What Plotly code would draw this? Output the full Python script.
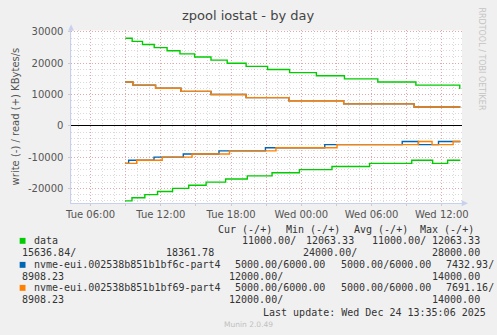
import plotly.graph_objects as go

W, H = 497, 335

# ---------------- data ----------------
data_read_times = ["2025-12-23 08:58", "2025-12-23 09:33", "2025-12-23 10:26", "2025-12-23 11:26",
                   "2025-12-23 12:32", "2025-12-23 13:38", "2025-12-23 14:53", "2025-12-23 16:17",
                   "2025-12-23 17:40", "2025-12-23 19:17", "2025-12-23 21:07", "2025-12-23 23:00",
                   "2025-12-24 01:17", "2025-12-24 03:41", "2025-12-24 06:32", "2025-12-24 09:47",
                   "2025-12-24 13:32", "2025-12-24 13:35"]
data_read_vals = [28000, 27000, 26000, 25000, 24000, 23000, 22000, 21000, 20000, 19000,
                  18000, 17000, 16000, 15000, 14000, 13000, 12000, 12000]

data_write_times = ["2025-12-23 08:56", "2025-12-23 09:32", "2025-12-23 10:38", "2025-12-23 11:43",
                    "2025-12-23 13:00", "2025-12-23 14:23", "2025-12-23 15:52", "2025-12-23 17:32",
                    "2025-12-23 19:23", "2025-12-23 21:30", "2025-12-23 23:50", "2025-12-24 02:37",
                    "2025-12-24 05:50", "2025-12-24 09:26", "2025-12-24 11:13", "2025-12-24 12:30",
                    "2025-12-24 13:35"]
data_write_vals = [24000, 23000, 22000, 21000, 20000, 19000, 18000, 17000, 16000, 15000,
                   14000, 13000, 12000, 11000, 12000, 11000, 11000]

bf6c_read_times = ["2025-12-23 08:58", "2025-12-23 09:37", "2025-12-23 11:33", "2025-12-23 13:43",
                   "2025-12-23 16:17", "2025-12-23 19:17", "2025-12-23 22:56", "2025-12-24 03:37",
                   "2025-12-24 09:38", "2025-12-24 13:35"]
bf6c_read_vals = [14000, 13000, 12000, 11000, 10000, 9000, 8000, 7000, 6000, 6000]

bf6c_write_times = ["2025-12-23 08:56", "2025-12-23 09:15", "2025-12-23 11:25", "2025-12-23 13:55",
                    "2025-12-23 16:58", "2025-12-23 20:56", "2025-12-24 02:00", "2025-12-24 08:37",
                    "2025-12-24 10:00", "2025-12-24 11:43", "2025-12-24 13:35"]
bf6c_write_vals = [12000, 11000, 10000, 9000, 8000, 7000, 6000, 5000, 6000, 5000, 5000]

bf69_read_times = ["2025-12-23 08:58", "2025-12-23 09:37", "2025-12-23 11:33", "2025-12-23 13:43",
                   "2025-12-23 16:17", "2025-12-23 19:17", "2025-12-23 22:56", "2025-12-24 03:37",
                   "2025-12-24 09:38", "2025-12-24 13:35"]
bf69_read_vals = [14000, 13000, 12000, 11000, 10000, 9000, 8000, 7000, 6000, 6000]

bf69_write_times = ["2025-12-23 08:56", "2025-12-23 09:56", "2025-12-23 12:07", "2025-12-23 14:40",
                    "2025-12-23 17:52", "2025-12-23 21:50", "2025-12-24 03:03", "2025-12-24 10:00",
                    "2025-12-24 11:10", "2025-12-24 12:58", "2025-12-24 13:35"]
bf69_write_vals = [12000, 11000, 10000, 9000, 8000, 7000, 6000, 5000, 6000, 5000, 5000]

x_tick_vals = ["2025-12-23 06:00", "2025-12-23 09:00", "2025-12-23 12:00", "2025-12-23 15:00",
               "2025-12-23 18:00", "2025-12-23 21:00", "2025-12-24 00:00", "2025-12-24 03:00",
               "2025-12-24 06:00", "2025-12-24 09:00", "2025-12-24 12:00"]
x_tick_text = ["Tue 06:00", "", "Tue 12:00", "", "Tue 18:00", "", "Wed 00:00", "",
               "Wed 06:00", "", "Wed 12:00"]
y_tick_vals = [-20000, -10000, 0, 10000, 20000, 30000]
y_tick_text = ["-20000", "-10000", "0", "10000", "20000", "30000"]

series_names = ["data", "nvme-eui.002538b851b1bf6c-part4", "nvme-eui.002538b851b1bf69-part4"]
series_colors = ["#00CC00", "#0066B3", "#FF8000"]

# ---------------- helpers (pixel -> paper) ----------------
def px(x):
    return x / W

def py(y):
    return 1 - y / H

fig = go.Figure()

series = [
    (series_colors[0], data_read_times, data_read_vals, data_write_times, data_write_vals),
    (series_colors[1], bf6c_read_times, bf6c_read_vals, bf6c_write_times, bf6c_write_vals),
    (series_colors[2], bf69_read_times, bf69_read_vals, bf69_write_times, bf69_write_vals),
]
for color, rt, rv, wt, wv in series:
    fig.add_trace(go.Scatter(x=wt, y=[-v for v in wv], mode="lines",
                             line=dict(color=color, width=1.4, shape="hv"),
                             showlegend=False, hoverinfo="skip"))
    fig.add_trace(go.Scatter(x=rt, y=rv, mode="lines",
                             line=dict(color=color, width=1.4, shape="hv"),
                             showlegend=False, hoverinfo="skip"))

major_grid = "rgba(230,110,110,0.45)"
minor_grid = "rgba(150,150,150,0.35)"
axis_col = "#c8d0f0"
tick_font = dict(family="DejaVu Sans", size=10, color="#555555")

fig.update_layout(
    width=W, height=H,
    margin=dict(l=0, r=0, t=0, b=0),
    paper_bgcolor="#F0F0F0",
    plot_bgcolor="#FFFFFF",
    showlegend=False,
    xaxis=dict(
        type="date",
        domain=[px(67), px(467.3)],
        range=["2025-12-23 04:21:30", "2025-12-24 13:43:30"],
        tickmode="array", tickvals=x_tick_vals, ticktext=x_tick_text,
        showgrid=True, gridcolor=major_grid, griddash="1px,2px", gridwidth=1,
        minor=dict(dtick=3600000, tick0="2025-12-23 00:00", showgrid=True,
                   gridcolor=minor_grid, griddash="1px,2px", gridwidth=1),
        showline=True, linecolor=axis_col, linewidth=1,
        ticks="outside", ticklen=2, tickcolor="#cccccc",
        tickfont=tick_font, zeroline=False, fixedrange=True,
    ),
    yaxis=dict(
        domain=[py(201.7), py(26.7)],
        range=[-24760, 30500],
        tickmode="array", tickvals=y_tick_vals, ticktext=y_tick_text,
        showgrid=True, gridcolor=major_grid, griddash="1px,2px", gridwidth=1,
        minor=dict(dtick=2000, tick0=0, showgrid=True,
                   gridcolor=minor_grid, griddash="1px,2px", gridwidth=1),
        showline=True, linecolor=axis_col, linewidth=1,
        ticks="outside", ticklen=2, tickcolor="#cccccc",
        ticklabelstandoff=3,
        tickfont=tick_font,
        zeroline=True, zerolinecolor="#000000", zerolinewidth=1.2, fixedrange=True,
    ),
)

shapes = []
# axis arrows
shapes.append(dict(type="path", xref="paper", yref="paper",
                   path=f"M {px(63.7)} {py(27)} L {px(69.7)} {py(27)} L {px(66.7)} {py(20.5)} Z",
                   fillcolor=axis_col, line=dict(width=0)))
shapes.append(dict(type="path", xref="paper", yref="paper",
                   path=f"M {px(467)} {py(198.7)} L {px(467)} {py(204.7)} L {px(473.5)} {py(201.7)} Z",
                   fillcolor=axis_col, line=dict(width=0)))
# legend colour squares
for yc, col in zip([239.7, 264, 287.3], series_colors):
    shapes.append(dict(type="rect", xref="paper", yref="paper",
                       x0=px(14), x1=px(20), y0=py(yc + 3), y1=py(yc - 3),
                       fillcolor=col, line=dict(width=0)))
fig.update_layout(shapes=shapes)

ann = []
def text(x, y, s, size=10, color="#333333", family="DejaVu Sans Mono", xanchor="left", angle=0):
    ann.append(dict(x=px(x), y=py(y), xref="paper", yref="paper", text=s, showarrow=False,
                    xanchor=xanchor, yanchor="middle", textangle=angle,
                    font=dict(family=family, size=size, color=color)))

text(248, 12, "zpool iostat - by day", size=13, color="#444444", family="DejaVu Sans", xanchor="center")
text(10, 114, "write (-) / read (+) KBytes/s", size=10, color="#555555", family="DejaVu Sans",
     xanchor="center", angle=-90)
text(487.7, 56, "RRDTOOL / TOBI OETIKER", size=8, color="#c4c4c4", family="DejaVu Sans",
     xanchor="center", angle=90)

# legend table
text(215, 228, "Cur (-/+)")
text(285, 228, "Min (-/+)")
text(354.3, 228, "Avg (-/+)")
text(422.7, 228, "Max (-/+)")

text(26.7, 239.7, series_names[0])
text(240, 239.7, "11000.00/")
text(305, 239.7, "12063.33")
text(373.3, 239.7, "11000.00/")
text(435, 239.7, "12063.33")
text(14, 251.7, "15636.84/")
text(161.7, 251.7, "18361.78")
text(302.3, 251.7, "24000.00/")
text(435, 251.7, "28000.00")

text(26.7, 264, series_names[1])
text(233, 264, "5000.00/6000.00")
text(341.7, 264, "5000.00/6000.00")
text(449.3, 264, "7432.93/")
text(14, 275.7, "8908.23")
text(226.7, 275.7, "12000.00/")
text(435, 275.7, "14000.00")

text(26.7, 287.3, series_names[2])
text(233, 287.3, "5000.00/6000.00")
text(341.7, 287.3, "5000.00/6000.00")
text(449.3, 287.3, "7691.16/")
text(14, 299.3, "8908.23")
text(226.7, 299.3, "12000.00/")
text(435, 299.3, "14000.00")

text(261.7, 312.3, "Last update: Wed Dec 24 13:35:06 2025")
text(249, 324.5, "Munin 2.0.49", size=7.5, color="#c0c0c0", family="DejaVu Sans", xanchor="center")

fig.update_layout(annotations=ann)
fig.write_html("out.html")
